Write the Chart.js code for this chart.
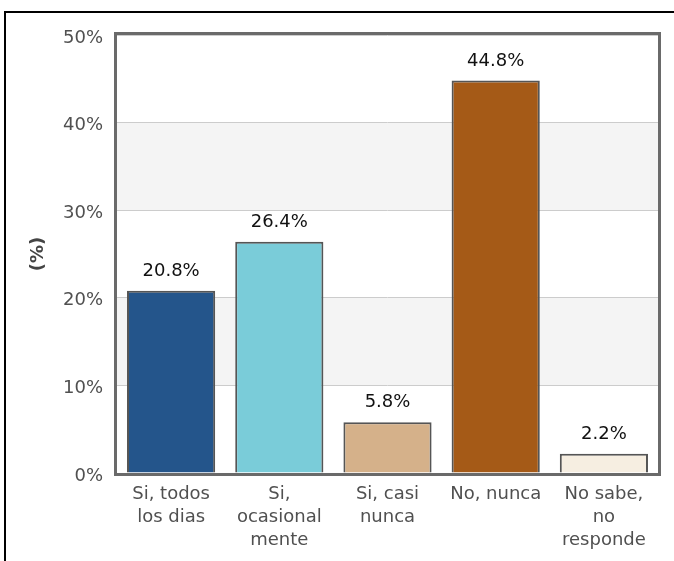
<!DOCTYPE html>
<html>
<head>
<meta charset="utf-8">
<script src="https://cdn.jsdelivr.net/npm/chart.js@4"></script>
<style>
  html, body { margin: 0; padding: 0; background: #fff; overflow: hidden; }
  #frame { position: absolute; left: 4px; top: 11px; width: 720px; height: 600px;
           border-top: 2px solid #000; border-left: 2px solid #000; }
  #c { position: absolute; left: 0; top: 0; }
</style>
</head>
<body>
<div id="frame"></div>
<canvas id="c" width="674" height="561"></canvas>
<script>
const categories = [
  ["Si, todos", "los dias"],
  ["Si,", "ocasional", "mente"],
  ["Si, casi", "nunca"],
  ["No, nunca"],
  ["No sabe,", "no", "responde"]
];
const values = [20.8, 26.4, 5.8, 44.8, 2.2];
const barColors = ["#24558b", "#7accd9", "#d5b18a", "#a55a17", "#f6eee1"];
const yMin = 0, yMax = 50, yStep = 10;
const yTitle = "(%)";

const FONT = "'DejaVu Sans', Verdana, sans-serif";

const bandsPlugin = {
  id: 'bands',
  beforeDraw(chart) {
    const { ctx, chartArea: a, scales: { y } } = chart;
    ctx.save();
    ctx.fillStyle = '#ffffff';
    ctx.fillRect(a.left, a.top, a.right - a.left, a.bottom - a.top);
    ctx.fillStyle = '#f4f4f4';
    const ticks = y.ticks.map(t => t.value).sort((p, q) => p - q);
    for (let i = 0; i < ticks.length - 1; i++) {
      if (i % 2 === 1) {
        const y0 = y.getPixelForValue(ticks[i]);
        const y1 = y.getPixelForValue(ticks[i + 1]);
        ctx.fillRect(a.left, y1, a.right - a.left, y0 - y1);
      }
    }
    ctx.restore();
  }
};

const boxAndLabels = {
  id: 'boxAndLabels',
  afterDatasetsDraw(chart) {
    const { ctx, chartArea: a } = chart;
    ctx.save();
    const meta = chart.getDatasetMeta(0);
    ctx.font = "18px " + FONT;
    ctx.fillStyle = '#111111';
    ctx.textAlign = 'center';
    ctx.textBaseline = 'alphabetic';
    meta.data.forEach((bar, i) => {
      ctx.fillText(values[i].toFixed(1) + '%', bar.x, bar.y - 15);
    });
    ctx.strokeStyle = '#6a6a6a';
    ctx.lineWidth = 3;
    ctx.strokeRect(a.left - 1.5, a.top - 1.5, a.right - a.left + 3, a.bottom - a.top + 3);
    ctx.restore();
  }
};

new Chart(document.getElementById('c'), {
  type: 'bar',
  data: {
    labels: categories,
    datasets: [{
      data: values,
      backgroundColor: barColors,
      borderColor: '#555555',
      borderWidth: 2,
      barPercentage: 0.815,
      categoryPercentage: 1.0
    }]
  },
  options: {
    responsive: false,
    animation: false,
    devicePixelRatio: 1,
    layout: { padding: { top: 35, right: 16, left: 0, bottom: 0 } },
    plugins: { legend: { display: false }, tooltip: { enabled: false } },
    scales: {
      x: {
        grid: { display: false, drawTicks: false },
        border: { display: false },
        ticks: {
          color: '#505050',
          font: { family: FONT, size: 18, lineHeight: 1.28 },
          padding: 10,
          maxRotation: 0,
          autoSkip: false
        },
        afterFit(s) { s.height = 88; }
      },
      y: {
        min: yMin, max: yMax,
        grid: { color: '#cccccc', lineWidth: 1, drawTicks: false, tickLength: 0 },
        border: { display: false },
        ticks: {
          stepSize: yStep,
          color: '#505050',
          font: { family: FONT, size: 18 },
          padding: 14,
          labelOffset: 3,
          callback: v => v + '%'
        },
        title: {
          display: true,
          text: yTitle,
          color: '#444444',
          font: { family: FONT, size: 18, weight: 'bold' },
          padding: { top: 28, bottom: 0 }
        },
        afterFit(s) { s.width = 117; }
      }
    }
  },
  plugins: [bandsPlugin, boxAndLabels]
});
</script>
</body>
</html>
